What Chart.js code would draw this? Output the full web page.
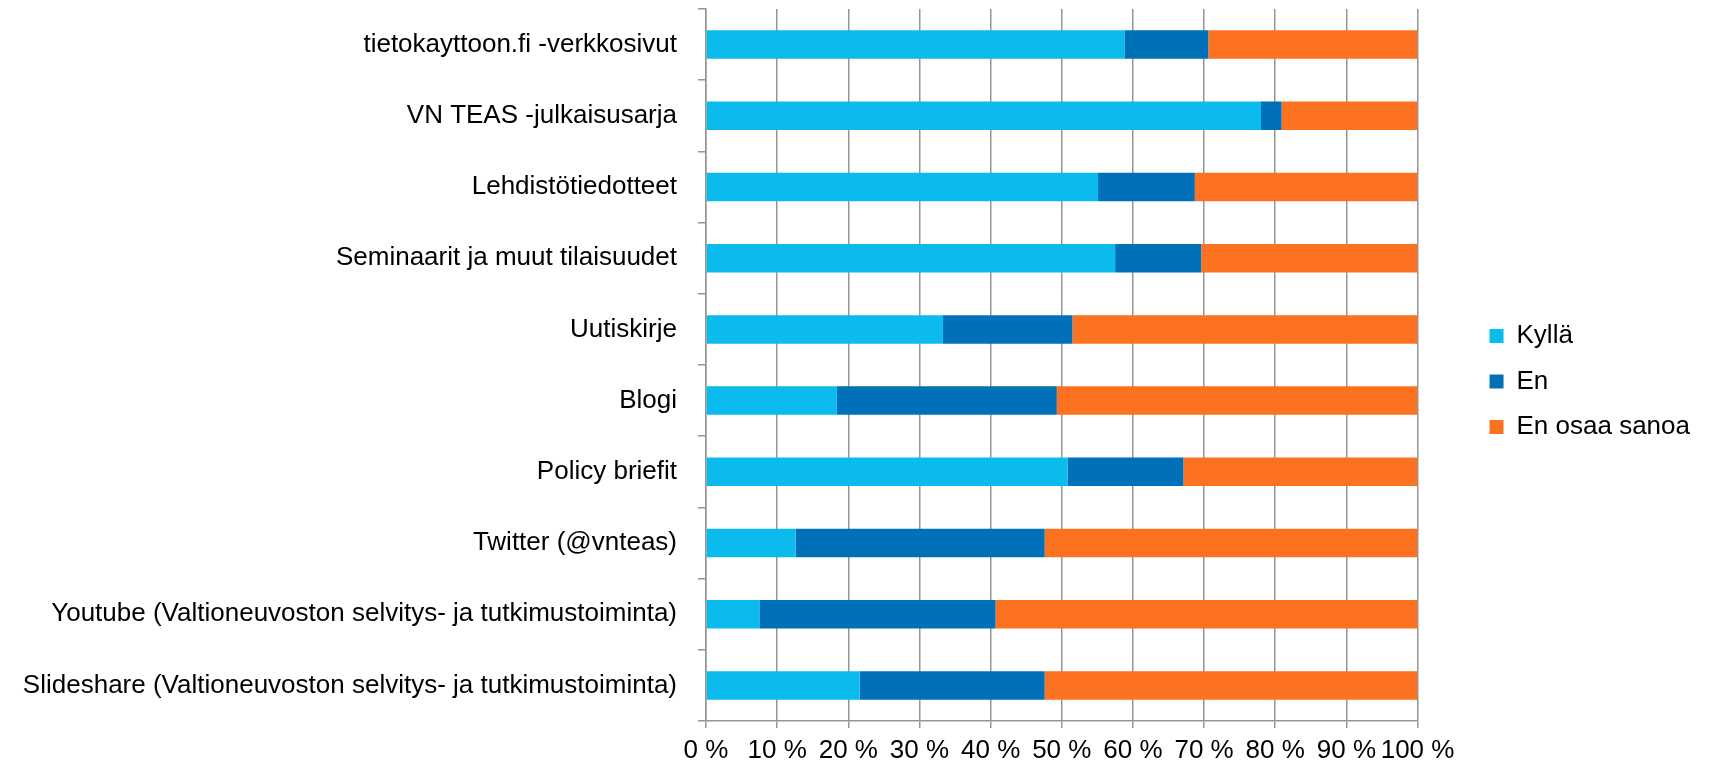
<!DOCTYPE html>
<html>
<head>
<meta charset="utf-8">
<script src="https://cdn.jsdelivr.net/npm/chart.js@4.4.1/dist/chart.umd.min.js"></script>
<style>
body{margin:0;background:#fff;}
</style>
</head>
<body>
<canvas id="chart" width="1713" height="764"></canvas>
<script>
const categories = [
"tietokayttoon.fi -verkkosivut",
"VN TEAS -julkaisusarja",
"Lehdistötiedotteet",
"Seminaarit ja muut tilaisuudet",
"Uutiskirje",
"Blogi",
"Policy briefit",
"Twitter (@vnteas)",
"Youtube (Valtioneuvoston selvitys- ja tutkimustoiminta)",
"Slideshare (Valtioneuvoston selvitys- ja tutkimustoiminta)"
];

const kylla = [58.8, 78.0, 55.1, 57.5, 33.3, 18.4, 50.8, 12.6, 7.5, 21.6];
const en = [11.8, 2.9, 13.6, 12.1, 18.2, 30.9, 16.3, 35.0, 33.2, 26.0];
const enOsaa = [29.4, 19.1, 31.3, 30.4, 48.5, 50.7, 32.9, 52.4, 59.3, 52.4];

const xTicks = [0, 10, 20, 30, 40, 50, 60, 70, 80, 90, 100];

const gridColor = "#959595";
const fontFamily = "'Liberation Sans', Arial, sans-serif";

// scales should not push the plot area around with label padding
function noPad(s){ s.paddingTop = 0; s.paddingBottom = 0; }

const ctx = document.getElementById("chart");

const chart = new Chart(ctx, {

type:"bar",

data:{
labels:categories,
datasets:[
{label:"Kyllä", data:kylla, backgroundColor:"#0cbbee"},
{label:"En", data:en, backgroundColor:"#0070b8"},
{label:"En osaa sanoa", data:enOsaa, backgroundColor:"#fc7220"}
]
},

options:{
responsive:false,
devicePixelRatio:1,
animation:false,
indexAxis:"y",
categoryPercentage:0.4,
barPercentage:1,
layout:{padding:{top:9, right:13, bottom:0, left:0}},
plugins:{
tooltip:{enabled:false},
legend:{
position:"right",
fullSize:false,
title:{display:true, text:" ", padding:0, font:{size:27.5}},
labels:{
boxWidth:14,
boxHeight:14,
padding:19.5,
color:"#000",
font:{family:fontFamily, size:26}
}
}
},
scales:{
x:{
stacked:true,
min:0,
max:100,
afterBuildTicks:(s)=>{ s.ticks = xTicks.map(v=>({value:v})); },
afterFit:(s)=>{ s.height = 43; },
ticks:{
padding:10,
autoSkip:false,
color:"#000",
maxRotation:0,
font:{family:fontFamily, size:26, lineHeight:1},
callback:(v)=>v+" %"
},
grid:{color:gridColor, lineWidth:1.5, tickLength:7, drawTicks:true},
border:{color:gridColor, width:1.5}
},
y:{
stacked:true,
afterFit:(s)=>{ s.width = 706; noPad(s); },
ticks:{
padding:21,
autoSkip:false,
color:"#000",
font:{family:fontFamily, size:26}
},
grid:{drawOnChartArea:false, drawTicks:true, tickLength:8, offset:true, color:gridColor, lineWidth:1.5},
border:{color:gridColor, width:1.5}
},
spacer:{
type:"linear",
position:"right",
display:true,
afterFit:(s)=>{ s.width = 52.5; noPad(s); },
ticks:{display:false},
grid:{display:false},
border:{display:false}
}
}
}

});
</script>
</body>
</html>
